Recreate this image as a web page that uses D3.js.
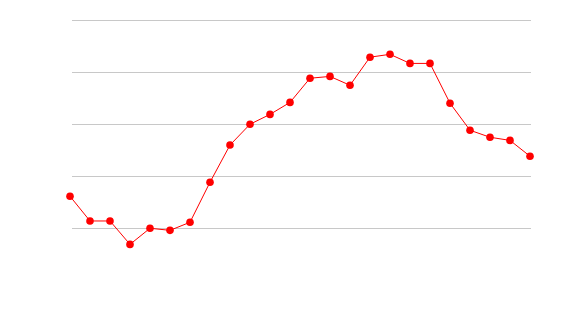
<!DOCTYPE html>
<html>
<head>
<meta charset="utf-8">
<script src="https://cdn.jsdelivr.net/npm/d3@7"></script>
<style>
  body { margin: 0; background: #fff; }
</style>
</head>
<body>
<div id="chart"></div>
<script>
// chart size
const width = 570;
const height = 320;

// data
const categories = d3.range(1, 25);
const values = [32.2, 22.7, 22.7, 13.7, 19.9, 19.1, 22.2, 37.6, 51.9, 59.9, 63.7, 68.3,
                77.6, 78.3, 74.9, 85.7, 86.8, 83.3, 83.3, 68.0, 57.6, 54.9, 53.7, 47.6];
const gridTicks = [20, 40, 60, 80, 100];

const data = categories.map((c, i) => ({cat: c, value: values[i]}));

const svg = d3.select("#chart")
  .append("svg")
  .attr("width", width)
  .attr("height", height);

// scales
const xScale = d3.scalePoint()
  .domain(categories)
  .range([70, 530]);

const yScale = d3.scaleLinear()
  .domain([0, 100])
  .range([280, 20]);

// horizontal grid lines only, no labels
const grid = svg.append("g")
  .attr("transform", "translate(72,0)")
  .call(d3.axisLeft(yScale).tickValues(gridTicks).tickSize(-459).tickFormat(""));
grid.select(".domain").remove();
grid.selectAll(".tick line").attr("stroke", "#c8c8c8");

// line
const line = d3.line()
  .x(d => xScale(d.cat))
  .y(d => yScale(d.value));

svg.append("path")
  .datum(data)
  .attr("fill", "none")
  .attr("stroke", "#ff0000")
  .attr("stroke-width", 1)
  .attr("d", line);

// markers
svg.selectAll(".dot")
  .data(data)
  .enter()
  .append("circle")
    .attr("class", "dot")
    .attr("cx", d => xScale(d.cat))
    .attr("cy", d => yScale(d.value))
    .attr("r", 3.8)
    .attr("fill", "#ff0000");
</script>
</body>
</html>
